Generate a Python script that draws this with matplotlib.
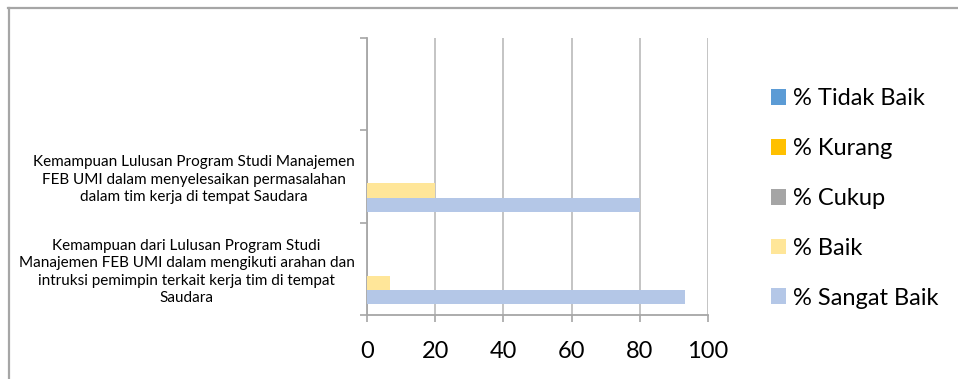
import matplotlib.pyplot as plt
import numpy as np
from matplotlib.lines import Line2D

plt.rcParams['font.family'] = ['Lato', 'DejaVu Sans']

# Data (categories from bottom to top; the top slot is an empty row)
categories = [
    'Kemampuan dari Lulusan Program Studi\nManajemen FEB UMI dalam mengikuti arahan dan\nintruksi pemimpin terkait kerja tim di tempat\nSaudara',
    'Kemampuan Lulusan Program Studi Manajemen\nFEB UMI dalam menyelesaikan permasalahan\ndalam tim kerja di tempat Saudara',
    '',
]
series_names = ['% Tidak Baik', '% Kurang', '% Cukup', '% Baik', '% Sangat Baik']
tidak_baik = [0, 0, 0]
kurang = [0, 0, 0]
cukup = [0, 0, 0]
baik = [6.67, 20, 0]
sangat_baik = [93.33, 80, 0]
x_ticks = [0, 20, 40, 60, 80, 100]

colors = ['#5B9BD5', '#FFC000', '#A5A5A5', '#FFE699', '#B4C7E7']
values = [tidak_baik, kurang, cukup, baik, sangat_baik]

fig = plt.figure(figsize=(9.58, 3.79), dpi=100)
ax = fig.add_axes([0.3831, 0.1689, 0.3559, 0.7309])

y = np.arange(len(categories))
h = 0.152
offsets = [2, 1, 0, -1, -2]
handles = []
for name, vals, col, off in zip(series_names, values, colors, offsets):
    b = ax.barh(y + off * h, vals, height=h, color=col, label=name, zorder=3)
    handles.append(b)

ax.set_xlim(0, 100)
ax.set_ylim(-0.5, 2.5)
ax.set_xticks(x_ticks)
ax.set_xticklabels([str(t) for t in x_ticks], fontsize=17)
ax.set_yticks(y)
ax.set_yticklabels(categories, fontsize=11, multialignment='center', linespacing=1.32)
ax.set_yticks([-0.5, 0.5, 1.5, 2.5], minor=True)
ax.tick_params(axis='y', which='major', length=0, pad=9)
ax.tick_params(axis='y', which='minor', length=5, color='#A6A6A6', width=1.2)
ax.tick_params(axis='x', length=5, color='#A6A6A6', width=1.2, pad=14)

ax.grid(axis='x', color='#BFBFBF', linewidth=1.3, zorder=0)
for s in ['top', 'right']:
    ax.spines[s].set_visible(False)
for s in ['left', 'bottom']:
    ax.spines[s].set_color('#A6A6A6')
    ax.spines[s].set_linewidth(1.3)

leg = fig.legend(handles=handles, loc='upper left', bbox_to_anchor=(0.792, 0.798),
                 frameon=False, fontsize=17, handlelength=0.65, handleheight=0.65,
                 handletextpad=0.3, labelspacing=1.22, borderpad=0)

# outer chart border (only top and left edges visible)
fig.add_artist(Line2D([8 / 958, 1], [1 - 8 / 379, 1 - 8 / 379], color='#A6A6A6', linewidth=1.6))
fig.add_artist(Line2D([9 / 958, 9 / 958], [0, 1 - 8 / 379], color='#A6A6A6', linewidth=1.6))

fig.savefig('out.png', dpi=100)
